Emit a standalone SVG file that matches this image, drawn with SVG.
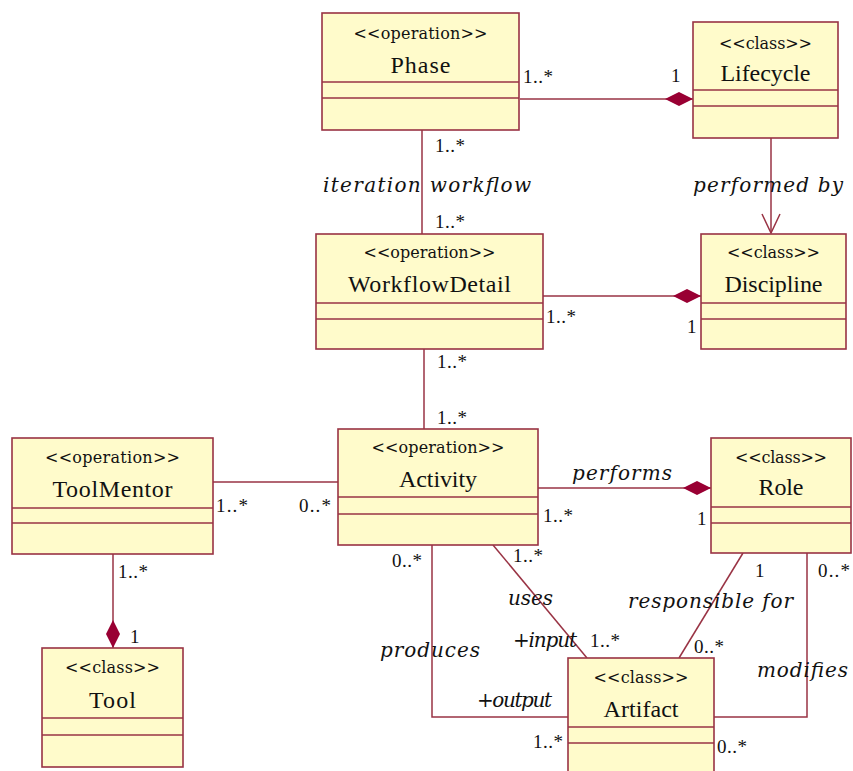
<svg xmlns="http://www.w3.org/2000/svg" width="853" height="771" viewBox="0 0 853 771">
<style>
.box{fill:#FFFBCB;stroke:#993344;stroke-width:1.6}
.div{stroke:#993344;stroke-width:1.4}
.st{font-family:"DejaVu Serif","Liberation Serif",serif;font-size:16px;fill:#111;text-anchor:middle}
.nm{font-family:"Liberation Serif","Times New Roman",serif;font-size:24px;fill:#111;text-anchor:middle}
.ln{fill:none;stroke:#993344;stroke-width:1.5}
.m{font-family:"Liberation Serif","Times New Roman",serif;font-size:19px;fill:#111}
.it{font-family:"DejaVu Serif","Liberation Serif",serif;font-style:italic;font-size:20px;fill:#111}
</style>
<defs>
<marker id="dia" markerUnits="userSpaceOnUse" viewBox="0 0 28 14" refX="28" refY="7" markerWidth="28" markerHeight="14" orient="auto">
<path d="M0,7 L14,0 L28,7 L14,14 Z" fill="#990033"/>
</marker>
<marker id="open" markerUnits="userSpaceOnUse" viewBox="-21 -11 23 22" refX="0" refY="0" markerWidth="23" markerHeight="22" orient="auto">
<path d="M-19,-9 L0,0 L-19,9" fill="none" stroke="#993344" stroke-width="1.5"/>
</marker>
</defs>

<g id="connectors">
<line class="ln" x1="520" y1="99" x2="693" y2="99" marker-end="url(#dia)"/>
<line class="ln" x1="422" y1="130" x2="422" y2="234"/>
<line class="ln" x1="771" y1="138" x2="771" y2="233" marker-end="url(#open)"/>
<line class="ln" x1="543" y1="296" x2="701" y2="296" marker-end="url(#dia)"/>
<line class="ln" x1="424" y1="349" x2="424" y2="429"/>
<line class="ln" x1="213" y1="482" x2="338" y2="482"/>
<line class="ln" x1="538" y1="488" x2="711" y2="488" marker-end="url(#dia)"/>
<line class="ln" x1="113" y1="554" x2="113" y2="648" marker-end="url(#dia)"/>
<polyline class="ln" points="432,545 432,717 568,717"/>
<line class="ln" x1="493" y1="545" x2="587" y2="658"/>
<line class="ln" x1="743" y1="553" x2="679" y2="658"/>
<polyline class="ln" points="807,553 807,717 714,717"/>

<text class="m" x="523" y="83" textLength="30">1..*</text>
<text class="m" x="671" y="82">1</text>
<text class="m" x="435" y="152" textLength="30">1..*</text>
<text class="it" x="323" y="192" textLength="208">iteration workflow</text>
<text class="m" x="435" y="228" textLength="30">1..*</text>
<text class="it" x="693" y="192" textLength="150">performed by</text>
<text class="m" x="546" y="323" textLength="30">1..*</text>
<text class="m" x="687" y="333">1</text>
<text class="m" x="437" y="368" textLength="30">1..*</text>
<text class="m" x="437" y="424" textLength="30">1..*</text>
<text class="m" x="216" y="512" textLength="32">1..*</text>
<text class="m" x="299" y="512" textLength="32">0..*</text>
<text class="m" x="118" y="578" textLength="30">1..*</text>
<text class="m" x="130" y="643">1</text>
<text class="it" x="572" y="480" textLength="100">performs</text>
<text class="m" x="543" y="522" textLength="30">1..*</text>
<text class="m" x="697" y="525">1</text>
<text class="m" x="392" y="567" textLength="30">0..*</text>
<text class="m" x="513" y="562" textLength="30">1..*</text>
<text class="it" x="508" y="605" textLength="45">uses</text>
<text class="it" x="513" y="647" textLength="64">+input</text>
<text class="m" x="590" y="647" textLength="30">1..*</text>
<text class="it" x="380" y="657" textLength="100">produces</text>
<text class="it" x="477" y="707" textLength="75">+output</text>
<text class="m" x="533" y="748" textLength="30">1..*</text>
<text class="m" x="755" y="577">1</text>
<text class="m" x="818" y="577" textLength="32">0..*</text>
<text class="it" x="628" y="608" textLength="165">responsible for</text>
<text class="m" x="694" y="653" textLength="30">0..*</text>
<text class="it" x="757" y="677" textLength="91">modifies</text>
<text class="m" x="717" y="753" textLength="30">0..*</text>
</g>

<g id="Phase">
<rect class="box" x="322" y="13" width="197" height="117"/>
<line class="div" x1="322" y1="82" x2="519" y2="82"/>
<line class="div" x1="322" y1="98" x2="519" y2="98"/>
<text class="st" x="420.5" y="39" textLength="134">&lt;&lt;operation&gt;&gt;</text>
<text class="nm" x="420.5" y="73" textLength="60">Phase</text>
</g>

<g id="Lifecycle">
<rect class="box" x="693" y="22" width="145" height="116"/>
<line class="div" x1="693" y1="90" x2="838" y2="90"/>
<line class="div" x1="693" y1="106" x2="838" y2="106"/>
<text class="st" x="765.5" y="49" textLength="93">&lt;&lt;class&gt;&gt;</text>
<text class="nm" x="765.5" y="81" textLength="90">Lifecycle</text>
</g>

<g id="WorkflowDetail">
<rect class="box" x="316" y="234" width="227" height="115"/>
<line class="div" x1="316" y1="303" x2="543" y2="303"/>
<line class="div" x1="316" y1="319" x2="543" y2="319"/>
<text class="st" x="429.5" y="258" textLength="132">&lt;&lt;operation&gt;&gt;</text>
<text class="nm" x="429.5" y="292" textLength="163">WorkflowDetail</text>
</g>

<g id="Discipline">
<rect class="box" x="701" y="234" width="145" height="115"/>
<line class="div" x1="701" y1="303" x2="846" y2="303"/>
<line class="div" x1="701" y1="319" x2="846" y2="319"/>
<text class="st" x="773.5" y="258" textLength="93">&lt;&lt;class&gt;&gt;</text>
<text class="nm" x="773.5" y="292" textLength="98">Discipline</text>
</g>

<g id="ToolMentor">
<rect class="box" x="12" y="438" width="201" height="116"/>
<line class="div" x1="12" y1="508" x2="213" y2="508"/>
<line class="div" x1="12" y1="523" x2="213" y2="523"/>
<text class="st" x="112.5" y="463" textLength="135">&lt;&lt;operation&gt;&gt;</text>
<text class="nm" x="112.5" y="497" textLength="120">ToolMentor</text>
</g>

<g id="Tool">
<rect class="box" x="42" y="648" width="141" height="119"/>
<line class="div" x1="42" y1="718" x2="183" y2="718"/>
<line class="div" x1="42" y1="735" x2="183" y2="735"/>
<text class="st" x="112.5" y="673" textLength="95">&lt;&lt;class&gt;&gt;</text>
<text class="nm" x="112.5" y="708" textLength="47">Tool</text>
</g>

<g id="Activity">
<rect class="box" x="338" y="429" width="200" height="116"/>
<line class="div" x1="338" y1="497" x2="538" y2="497"/>
<line class="div" x1="338" y1="514" x2="538" y2="514"/>
<text class="st" x="438" y="453" textLength="133">&lt;&lt;operation&gt;&gt;</text>
<text class="nm" x="438" y="487" textLength="78">Activity</text>
</g>

<g id="Role">
<rect class="box" x="711" y="438" width="140" height="115"/>
<line class="div" x1="711" y1="507" x2="851" y2="507"/>
<line class="div" x1="711" y1="523" x2="851" y2="523"/>
<text class="st" x="781" y="463" textLength="92">&lt;&lt;class&gt;&gt;</text>
<text class="nm" x="781" y="495" textLength="45">Role</text>
</g>

<g id="Artifact">
<rect class="box" x="568" y="658" width="146" height="120"/>
<line class="div" x1="568" y1="727" x2="714" y2="727"/>
<line class="div" x1="568" y1="743" x2="714" y2="743"/>
<text class="st" x="641" y="683" textLength="95">&lt;&lt;class&gt;&gt;</text>
<text class="nm" x="641" y="717" textLength="75">Artifact</text>
</g>
</svg>
